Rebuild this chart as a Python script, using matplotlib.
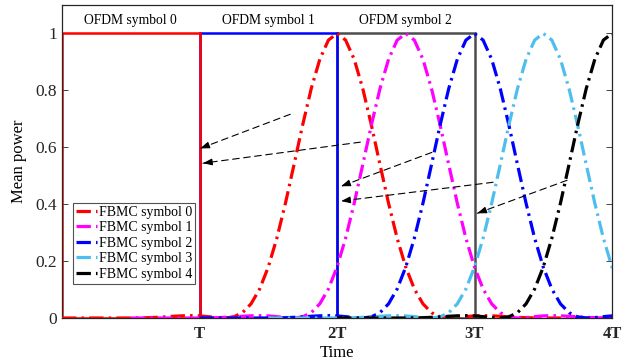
import matplotlib
matplotlib.use("Agg")
import matplotlib.pyplot as plt
import numpy as np

plt.rcParams['font.family'] = ['Liberation Serif', 'DejaVu Serif']

# ---- data ----
# OFDM rectangular symbols (start time in units of T, power 1 for one T)
ofdm_labels = ["OFDM symbol 0", "OFDM symbol 1", "OFDM symbol 2"]
ofdm_starts = [0.0, 1.0, 2.0]
ofdm_colors = ["#ff0000", "#0000ff", "#4d4d4d"]

# FBMC symbol centers (units of T)
fbmc_labels = ["FBMC symbol 0", "FBMC symbol 1", "FBMC symbol 2",
               "FBMC symbol 3", "FBMC symbol 4"]
fbmc_centers = [2.0, 2.5, 3.0, 3.5, 4.0]
fbmc_colors = ["#ff0000", "#ff00ff", "#0000ff", "#4dbeee", "#000000"]

# Mean power of one FBMC pulse, read at time offsets from its center (step T/16)
pulse_offsets = [k / 16 for k in range(-32, 33)]
pulse_right = [1.0000, 0.9766, 0.9093, 0.8059, 0.6781, 0.5394, 0.4032, 0.2804,
               0.1789, 0.1021, 0.0498, 0.0188, 0.0041, 0.0000, 0.0015, 0.0048,
               0.0074, 0.0083, 0.0077, 0.0061, 0.0041, 0.0024, 0.0011, 0.0004,
               0.0001, 0.0000, 0.0000, 0.0000, 0.0000, 0.0000, 0.0000, 0.0000,
               0.0000]
pulse_power = pulse_right[:0:-1] + pulse_right

# Annotation arrows (start -> end) in data coords
arrow_starts = [(1.66, 0.716), (2.17, 0.618), (2.69, 0.582), (3.135, 0.477), (3.673, 0.484)]
arrow_ends = [(1.005, 0.596), (1.025, 0.544), (2.03, 0.463), (2.03, 0.411), (3.02, 0.368)]

xtick_pos = [1, 2, 3, 4]
xtick_labels = ["T", "2T", "3T", "4T"]
ytick_pos = [0, 0.2, 0.4, 0.6, 0.8, 1.0]
ytick_labels = ["0", "0.2", "0.4", "0.6", "0.8", "1"]

# ---- figure ----
fig = plt.figure(figsize=(6.25, 3.64), dpi=100)
ax = fig.add_axes([62 / 625, 1 - 318 / 364, 550 / 625, 313 / 364])

# OFDM rectangles (draw in reverse so earlier symbols are on top at shared edges)
for s, c in reversed(list(zip(ofdm_starts, ofdm_colors))):
    ax.plot([s, s, s + 1, s + 1, s], [0, 1, 1, 0, 0], color=c, lw=1.8,
            solid_joinstyle='miter', zorder=2)

for lab, s in zip(ofdm_labels, ofdm_starts):
    ax.text(s + 0.5, 1.045, lab, ha='center', va='center', fontsize=9.8)

# FBMC pulses
t_off = np.array(pulse_offsets)
p = np.array(pulse_power)
for lab, cen, c in zip(fbmc_labels, fbmc_centers, fbmc_colors):
    ax.plot(cen + t_off, p, color=c, lw=2.3, dashes=(4.5, 1.6, 0.8, 1.6),
            label=lab, zorder=3)

# arrows
for (x0, y0), (x1, y1) in zip(arrow_starts, arrow_ends):
    ax.annotate("", xy=(x1, y1), xytext=(x0, y0),
                arrowprops=dict(arrowstyle='-', lw=0.8, ls=(0, (6, 4)), color='black',
                                shrinkA=0, shrinkB=0), zorder=4)
    dx, dy = x1 - x0, y1 - y0
    ax.annotate("", xy=(x1, y1), xytext=(x1 - 0.03 * dx / abs(dx), y1 - 0.03 * dy / abs(dx)),
                arrowprops=dict(arrowstyle='-|>,head_length=0.55,head_width=0.2', lw=0.8,
                                color='black', shrinkA=0, shrinkB=0), zorder=4)

ax.set_xlim(0, 4)
ax.set_ylim(0, 1.1)
ax.set_xticks(xtick_pos)
ax.set_xticklabels(xtick_labels, fontweight='bold', fontsize=12)
ax.set_yticks(ytick_pos)
ax.set_yticklabels(ytick_labels, fontsize=12.5)
ax.tick_params(direction='in', length=4, width=0.6, top=False, right=True, colors='#262626')
ax.tick_params(axis='x', pad=6)
for sp in ax.spines.values():
    sp.set_color('#262626')
    sp.set_linewidth(0.9)
ax.set_xlabel("Time", fontsize=12, labelpad=2)
ax.set_ylabel("Mean power", fontsize=12, labelpad=6)

leg = ax.legend(loc='lower left', bbox_to_anchor=(0.02, 0.11), fontsize=10,
                frameon=True, fancybox=False, edgecolor='#262626', handlelength=1.5,
                handletextpad=0.15, borderpad=0.2, labelspacing=0.18, borderaxespad=0)
leg.get_frame().set_linewidth(0.8)
leg.set_zorder(5)

fig.savefig("out.png", dpi=100)
